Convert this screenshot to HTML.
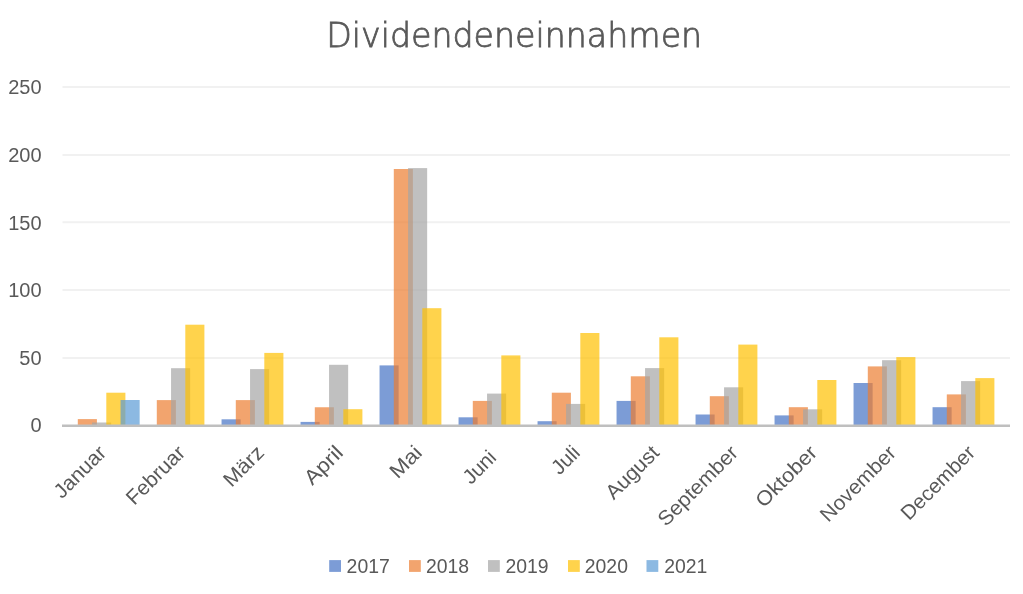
<!DOCTYPE html>
<html lang="de">
<head>
<meta charset="utf-8">
<title>Dividendeneinnahmen</title>
<style>
html,body{margin:0;padding:0;background:#fff;}
body{width:1023px;height:594px;overflow:hidden;}
svg{display:block;}
text{font-family:"Liberation Sans",sans-serif;fill:#595959;}
</style>
</head>
<body>
<svg width="1023" height="594" viewBox="0 0 1023 594">
<rect x="0" y="0" width="1023" height="594" fill="#ffffff"/>
<text transform="translate(514.20 47.20) scale(0.9980 1)" font-size="33.30" text-anchor="middle" letter-spacing="0.00" style="font-family:'DejaVu Sans','Liberation Sans',sans-serif;font-weight:200" stroke="#595959" stroke-width="0.80">Dividendeneinnahmen</text>
<g stroke="#F1F1F1" stroke-width="2" fill="none">
<line x1="62.50" y1="358.10" x2="1010.00" y2="358.10"/>
<line x1="62.50" y1="290.10" x2="1010.00" y2="290.10"/>
<line x1="62.50" y1="222.20" x2="1010.00" y2="222.20"/>
<line x1="62.50" y1="155.00" x2="1010.00" y2="155.00"/>
<line x1="62.50" y1="87.00" x2="1010.00" y2="87.00"/>
</g>
<g font-size="20.00" text-anchor="end">
<text x="41.60" y="432.00">0</text>
<text x="41.60" y="365.00">50</text>
<text x="41.60" y="297.00">100</text>
<text x="41.60" y="230.00">150</text>
<text x="41.60" y="162.00">200</text>
<text x="41.60" y="94.00">250</text>
</g>
<g fill-opacity="0.7">
<g fill="#4472C4">
<rect x="221.55" y="419.30" width="19.10" height="6.40"/>
<rect x="300.55" y="421.90" width="19.10" height="3.80"/>
<rect x="379.55" y="365.40" width="19.10" height="60.30"/>
<rect x="458.55" y="417.30" width="19.10" height="8.40"/>
<rect x="537.55" y="421.20" width="19.10" height="4.50"/>
<rect x="616.55" y="400.90" width="19.10" height="24.80"/>
<rect x="695.55" y="414.50" width="19.10" height="11.20"/>
<rect x="774.55" y="415.40" width="19.10" height="10.30"/>
<rect x="853.55" y="383.00" width="19.10" height="42.70"/>
<rect x="932.55" y="407.20" width="19.10" height="18.50"/>
</g>
<g fill="#ED7D31">
<rect x="77.80" y="419.10" width="19.10" height="6.60"/>
<rect x="156.80" y="400.10" width="19.10" height="25.60"/>
<rect x="235.80" y="400.10" width="19.10" height="25.60"/>
<rect x="314.80" y="407.25" width="19.10" height="18.45"/>
<rect x="393.80" y="169.00" width="19.10" height="256.70"/>
<rect x="472.80" y="400.90" width="19.10" height="24.80"/>
<rect x="551.80" y="392.70" width="19.10" height="33.00"/>
<rect x="630.80" y="376.30" width="19.10" height="49.40"/>
<rect x="709.80" y="396.20" width="19.10" height="29.50"/>
<rect x="788.80" y="407.20" width="19.10" height="18.50"/>
<rect x="867.80" y="366.40" width="19.10" height="59.30"/>
<rect x="946.80" y="394.40" width="19.10" height="31.30"/>
</g>
<g fill="#A5A5A5">
<rect x="92.05" y="422.50" width="19.10" height="3.20"/>
<rect x="171.05" y="368.20" width="19.10" height="57.50"/>
<rect x="250.05" y="369.10" width="19.10" height="56.60"/>
<rect x="329.05" y="364.80" width="19.10" height="60.90"/>
<rect x="408.05" y="168.10" width="19.10" height="257.60"/>
<rect x="487.05" y="393.60" width="19.10" height="32.10"/>
<rect x="566.05" y="403.90" width="19.10" height="21.80"/>
<rect x="645.05" y="368.10" width="19.10" height="57.60"/>
<rect x="724.05" y="387.30" width="19.10" height="38.40"/>
<rect x="803.05" y="409.30" width="19.10" height="16.40"/>
<rect x="882.05" y="360.20" width="19.10" height="65.50"/>
<rect x="961.05" y="381.10" width="19.10" height="44.60"/>
</g>
<g fill="#FFC000">
<rect x="106.30" y="392.70" width="19.10" height="33.00"/>
<rect x="185.30" y="324.70" width="19.10" height="101.00"/>
<rect x="264.30" y="352.90" width="19.10" height="72.80"/>
<rect x="343.30" y="409.20" width="19.10" height="16.50"/>
<rect x="422.30" y="308.20" width="19.10" height="117.50"/>
<rect x="501.30" y="355.40" width="19.10" height="70.30"/>
<rect x="580.30" y="333.00" width="19.10" height="92.70"/>
<rect x="659.30" y="337.30" width="19.10" height="88.40"/>
<rect x="738.30" y="344.60" width="19.10" height="81.10"/>
<rect x="817.30" y="380.00" width="19.10" height="45.70"/>
<rect x="896.30" y="357.10" width="19.10" height="68.60"/>
<rect x="975.30" y="378.10" width="19.10" height="47.60"/>
</g>
<g fill="#5B9BD5">
<rect x="120.55" y="400.00" width="19.10" height="25.70"/>
</g>
</g>
<line x1="62.00" y1="425.70" x2="1010.00" y2="425.70" stroke="#BFBFBF" stroke-width="2.5"/>
<g font-size="20.50" text-anchor="end">
<text transform="translate(96.90 443.50) rotate(-45) scale(1.0260 1)" x="0" y="0" dy="0.72em">Januar</text>
<text transform="translate(175.90 443.50) rotate(-45) scale(1.0276 1)" x="0" y="0" dy="0.72em">Februar</text>
<text transform="translate(254.90 443.50) rotate(-45) scale(1.0542 1)" x="0" y="0" dy="0.72em">März</text>
<text transform="translate(333.90 443.50) rotate(-45) scale(1.1048 1)" x="0" y="0" dy="0.72em">April</text>
<text transform="translate(412.90 443.50) rotate(-45) scale(1.0968 1)" x="0" y="0" dy="0.72em">Mai</text>
<text transform="translate(487.09 448.31) rotate(-45) scale(1.0000 1)" x="0" y="0" dy="0.72em">Juni</text>
<text transform="translate(570.90 443.50) rotate(-45) scale(1.0000 1)" x="0" y="0" dy="0.72em">Juli</text>
<text transform="translate(649.90 443.50) rotate(-45) scale(1.0321 1)" x="0" y="0" dy="0.72em">August</text>
<text transform="translate(728.90 443.50) rotate(-45) scale(1.0339 1)" x="0" y="0" dy="0.72em">September</text>
<text transform="translate(807.90 443.50) rotate(-45) scale(1.0581 1)" x="0" y="0" dy="0.72em">Oktober</text>
<text transform="translate(886.90 443.50) rotate(-45) scale(1.0321 1)" x="0" y="0" dy="0.72em">November</text>
<text transform="translate(965.90 443.50) rotate(-45) scale(1.0074 1)" x="0" y="0" dy="0.72em">December</text>
</g>
<g font-size="19.40">
<rect x="329.20" y="560.1" width="11.8" height="11.8" fill="#4472C4" fill-opacity="0.7"/>
<text x="346.60" y="573.00">2017</text>
<rect x="409.00" y="560.1" width="11.8" height="11.8" fill="#ED7D31" fill-opacity="0.7"/>
<text x="426.00" y="573.00">2018</text>
<rect x="488.00" y="560.1" width="11.8" height="11.8" fill="#A5A5A5" fill-opacity="0.7"/>
<text x="505.40" y="573.00">2019</text>
<rect x="568.00" y="560.1" width="11.8" height="11.8" fill="#FFC000" fill-opacity="0.7"/>
<text x="584.80" y="573.00">2020</text>
<rect x="646.50" y="560.1" width="11.8" height="11.8" fill="#5B9BD5" fill-opacity="0.7"/>
<text x="664.20" y="573.00">2021</text>
</g>
</svg>
</body>
</html>
